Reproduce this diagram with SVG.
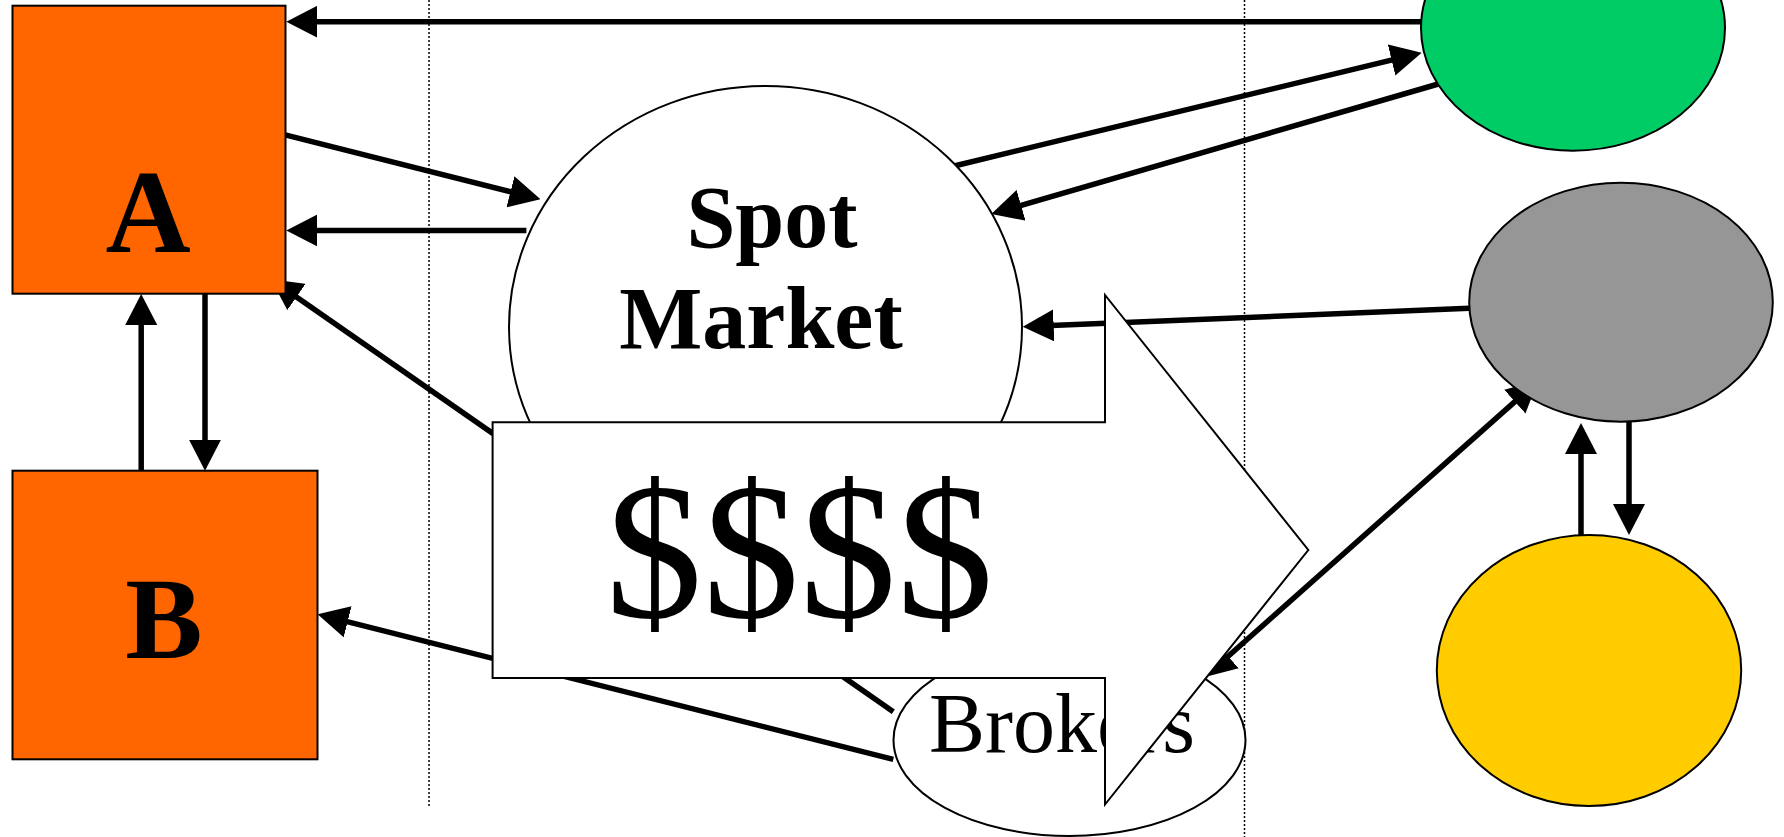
<svg xmlns="http://www.w3.org/2000/svg" width="1784" height="837" viewBox="0 0 1784 837">
<style>
.node{stroke:#000;stroke-width:2}
.conn{stroke:#000;stroke-width:5.5;fill:none}
.dot{stroke:#000;stroke-width:1.5;stroke-dasharray:2 2;fill:none}
.lbl{font-family:"Liberation Serif","Times New Roman",serif;fill:#000}
.bold{font-weight:bold}
</style>
<defs>
<marker id="ah" viewBox="0 0 31 32" refX="21" refY="16" markerWidth="31" markerHeight="32" markerUnits="userSpaceOnUse" orient="auto-start-reverse">
<path d="M0,0 L31,16 L0,32 Z" fill="#000"/>
</marker>
</defs>
<rect width="1784" height="837" fill="#fff"/>
<g id="guides">
<line class="dot" x1="429" y1="0" x2="429" y2="807"/>
<line class="dot" x1="1244.5" y1="0" x2="1244.5" y2="837"/>
</g>
<g id="connectors">
<line class="conn" x1="1421.7" y1="21.7" x2="296.3" y2="21.7" marker-end="url(#ah)"/>
<line class="conn" x1="283.2" y1="134.3" x2="530.8" y2="196.9" marker-end="url(#ah)"/>
<line class="conn" x1="526.4" y1="230.5" x2="296.3" y2="230.5" marker-end="url(#ah)"/>
<line class="conn" x1="893.3" y1="711.7" x2="279.2" y2="285.0" marker-end="url(#ah)"/>
<line class="conn" x1="893.3" y1="759.3" x2="327.3" y2="616.7" marker-end="url(#ah)"/>
<line class="conn" x1="954.2" y1="166" x2="1412.0" y2="55.1" marker-end="url(#ah)"/>
<line class="conn" x1="1438.3" y1="84" x2="1000.9" y2="211.2" marker-end="url(#ah)"/>
<line class="conn" x1="1469" y1="308.3" x2="1032.7" y2="326.3" marker-end="url(#ah)"/>
<line class="conn" x1="1212.4" y1="670.3" x2="1530.5" y2="387.7" marker-start="url(#ah)" marker-end="url(#ah)"/>
<line class="conn" x1="141.2" y1="470.7" x2="141.2" y2="304" marker-end="url(#ah)"/>
<line class="conn" x1="205" y1="293" x2="205" y2="460.7" marker-end="url(#ah)"/>
<line class="conn" x1="1581" y1="535" x2="1581" y2="433" marker-end="url(#ah)"/>
<line class="conn" x1="1629" y1="421" x2="1629" y2="525" marker-end="url(#ah)"/>
</g>
<g id="nodeA">
<rect class="node" x="12.5" y="5.7" width="273" height="288" fill="#FF6600"/>
<text class="lbl bold" x="148" y="252" font-size="118" text-anchor="middle">A</text>
</g>
<g id="nodeB">
<rect class="node" x="12.5" y="470.7" width="305" height="288.6" fill="#FF6600"/>
<text class="lbl bold" x="164" y="657.7" font-size="116" text-anchor="middle">B</text>
</g>
<g id="green">
<ellipse class="node" cx="1573" cy="28" rx="152" ry="122.7" fill="#00CC66"/>
</g>
<g id="grey">
<ellipse class="node" cx="1621" cy="302.2" rx="151.8" ry="119.5" fill="#969696"/>
</g>
<g id="yellow">
<ellipse class="node" cx="1589" cy="670.5" rx="152.2" ry="135.5" fill="#FFCC00"/>
</g>
<g id="spot">
<ellipse class="node" cx="765.5" cy="327" rx="256.5" ry="241" fill="#fff"/>
<text class="lbl bold" x="772" y="246.7" font-size="88" text-anchor="middle">Spot</text>
<text class="lbl bold" x="761" y="348.3" font-size="88" text-anchor="middle">Market</text>
</g>
<g id="brokers">
<ellipse class="node" cx="1069.5" cy="740" rx="176" ry="96" fill="#fff"/>
<text class="lbl" x="1062" y="752.3" font-size="84" text-anchor="middle">Brokers</text>
</g>
<g id="money">
<polygon class="node" points="492.6,422.3 1105,422.3 1105,295 1308.3,550 1105,804.5 1105,678 492.6,678" fill="#fff"/>
<text class="lbl" x="799.5" y="617" font-size="194" text-anchor="middle">$$$$</text>
</g>
</svg>
